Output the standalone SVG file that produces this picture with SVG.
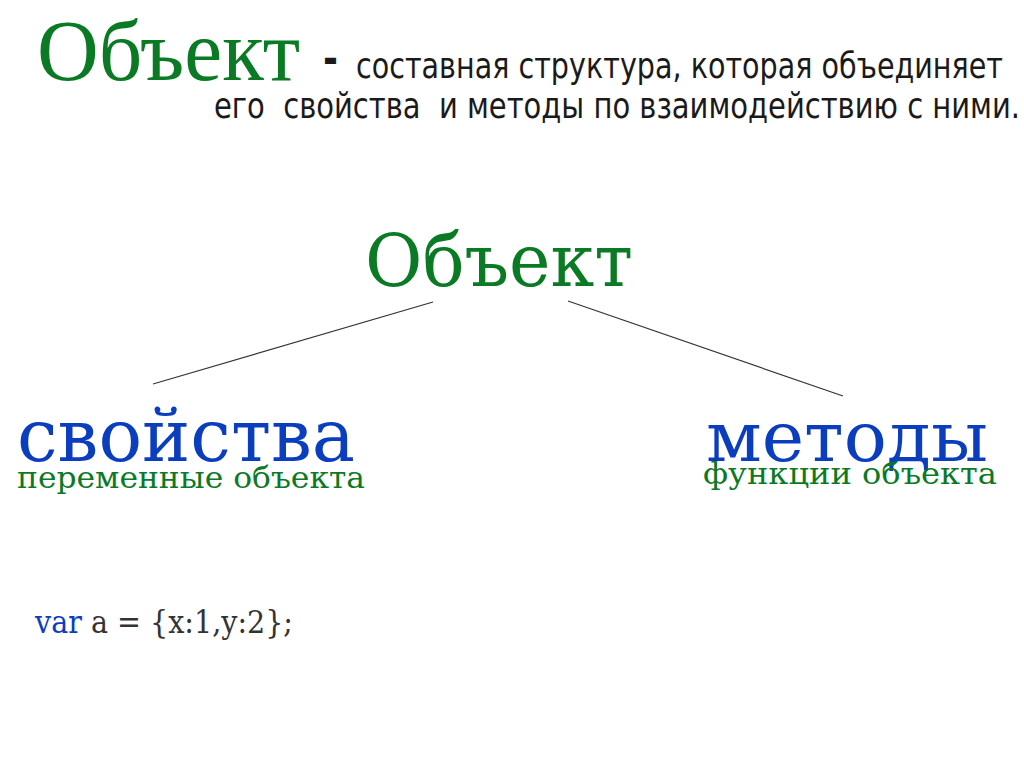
<svg xmlns="http://www.w3.org/2000/svg" width="1024" height="768" viewBox="0 0 1024 768">
<style>
.g{fill:#0b7a24}
.b{fill:#0a3ebe}
.ser{font-family:"DejaVu Serif",serif}
.tms{font-family:"Liberation Serif",serif}
.sans{font-family:"DejaVu Sans","Liberation Sans",sans-serif;fill:#1a1a1a}
.edge{stroke:#333;stroke-width:1.2;fill:none}
</style>
<rect width="1024" height="768" fill="#fff"/>
<g id="header">
<text class="tms g" x="37" y="80" font-size="86" textLength="263" lengthAdjust="spacingAndGlyphs">Объект</text>
<text class="sans" x="323" y="74" font-size="44" font-weight="bold" textLength="15" lengthAdjust="spacingAndGlyphs">-</text>
<text class="sans" x="356" y="78" font-size="36" textLength="647" lengthAdjust="spacingAndGlyphs">составная структура, которая объединяет</text>
<text class="sans" x="214" y="118" font-size="36" textLength="806" lengthAdjust="spacingAndGlyphs" xml:space="preserve">его  свойства  и методы по взаимодействию с ними.</text>
</g>
<g id="connectors">
<line class="edge" x1="433" y1="302" x2="153" y2="384"/>
<line class="edge" x1="568" y1="301" x2="843" y2="396"/>
</g>
<g id="node-object">
<text class="ser g" x="365" y="286" font-size="72" textLength="268" lengthAdjust="spacingAndGlyphs">Объект</text>
</g>
<g id="node-properties">
<text class="ser b" x="17" y="461" font-size="72" textLength="338" lengthAdjust="spacingAndGlyphs">свойства</text>
<text class="ser g" x="17" y="488" font-size="30" textLength="348" lengthAdjust="spacingAndGlyphs">переменные объекта</text>
</g>
<g id="node-methods">
<text class="ser b" x="706" y="461" font-size="70" textLength="282" lengthAdjust="spacingAndGlyphs">методы</text>
<text class="ser g" x="703" y="484" font-size="30" textLength="294" lengthAdjust="spacingAndGlyphs">функции объекта</text>
</g>
<g id="code">
<text class="ser" x="35" y="633" font-size="31" fill="#333" textLength="258" lengthAdjust="spacingAndGlyphs"><tspan class="b">var</tspan> a = {x:1,y:2};</text>
</g>
</svg>
